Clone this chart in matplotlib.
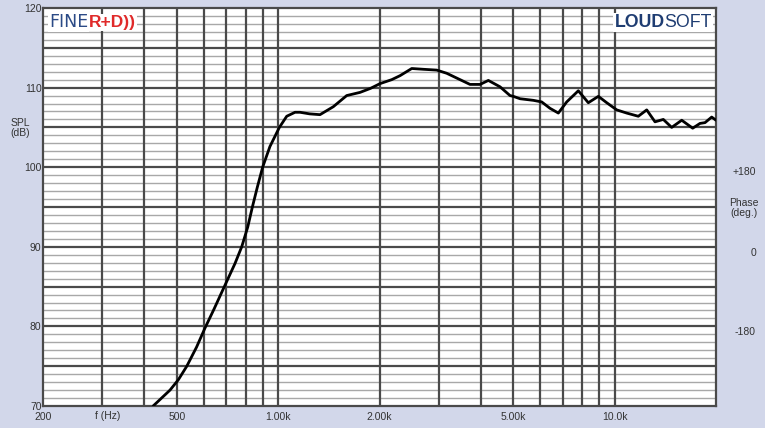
import matplotlib
matplotlib.use("Agg")
import matplotlib.pyplot as plt
from matplotlib.ticker import NullLocator, FixedLocator, NullFormatter

plt.rcParams['font.family'] = ['Liberation Sans', 'DejaVu Sans']

# Frequency response data (Hz, dB SPL)
freq = [425, 477, 505, 535, 572, 606, 645, 690, 744, 779, 812, 838, 867,
        899, 945, 1008, 1060, 1122, 1161, 1240, 1331, 1458, 1598, 1751,
        1880, 2007, 2175, 2302, 2494, 2700, 2958, 3168, 3470, 3715, 3980,
        4212, 4563, 4885, 4997, 5233, 5731, 6068, 6422, 6800, 7200, 7796,
        8348, 8942, 9470, 10140, 10857, 11752, 12450, 13176, 13946, 14768,
        15820, 17052, 17926, 18553, 19420, 20000]
spl = [70.0, 72.0, 73.3, 75.0, 77.4, 79.8, 82.2, 84.9, 87.9, 90.0, 92.5,
       95.0, 97.5, 100.0, 102.6, 105.0, 106.4, 106.9, 106.9, 106.7, 106.6,
       107.6, 109.0, 109.4, 109.9, 110.5, 111.0, 111.5, 112.4, 112.3, 112.2,
       111.8, 111.0, 110.4, 110.4, 110.9, 110.1, 109.0, 108.9, 108.6, 108.4,
       108.2, 107.4, 106.8, 108.2, 109.6, 108.1, 108.9, 108.1, 107.2, 106.8,
       106.4, 107.2, 105.7, 106.0, 105.0, 105.9, 104.9, 105.5, 105.6, 106.3,
       105.9]

x_ticks = [200, 500, 1000, 2000, 5000, 10000]
x_labels = ['200', '500', '1.00k', '2.00k', '5.00k', '10.0k']
y_ticks = [70, 80, 90, 100, 110, 120]
vgrid = [300, 400, 500, 600, 700, 800, 900, 1000, 2000, 3000, 4000, 5000,
         6000, 7000, 8000, 9000, 10000]
phase_labels = ['+180', '0', '-180']

W, H = 765, 428
bg = '#d2d7ea'
fig = plt.figure(figsize=(W/100, H/100), dpi=100, facecolor=bg)
ax = fig.add_axes([43/W, 22/H, (716-43)/W, (406-8)/H])
ax.set_facecolor('white')
ax.set_xscale('log')
ax.set_xlim(200, 20000)
ax.set_ylim(70, 120)

# grid
for v in range(71, 120):
    if v % 5 == 0:
        ax.axhline(v, color='#4a4a4a', lw=1.6, zorder=1)
    else:
        ax.axhline(v, color='#a8a8a8', lw=1.0, zorder=1)
for f in vgrid:
    ax.axvline(f, color='#4a4a4a', lw=1.6, zorder=1)

ax.plot(freq, spl, color='black', lw=2.0, zorder=3,
        solid_joinstyle='round', solid_capstyle='round')

for s in ax.spines.values():
    s.set_color('#4a4a4a')
    s.set_linewidth(1.6)

ax.xaxis.set_major_locator(FixedLocator(x_ticks))
ax.xaxis.set_minor_locator(NullLocator())
ax.xaxis.set_minor_formatter(NullFormatter())
ax.set_xticklabels(x_labels)
ax.set_yticks(y_ticks)
ax.tick_params(axis='both', length=0, labelsize=7.5, colors='#333333')
ax.tick_params(axis='y', pad=1)
ax.tick_params(axis='x', pad=4.5)

# extra labels
fig.text(108/W, 1 - 416/H, 'f (Hz)', fontsize=7.5, color='#333333',
         ha='center', va='center')
fig.text(20/W, 1 - 128/H, 'SPL\n(dB)', fontsize=7.5, color='#333333',
         ha='center', va='center', linespacing=1.1)
phase_y = [172, 253, 332]
for lab, py in zip(phase_labels, phase_y):
    fig.text(756/W, 1 - py/H, lab, fontsize=7.5, color='#333333',
             ha='right', va='center')
fig.text(744/W, 1 - 208/H, 'Phase\n(deg.)', fontsize=7.5, color='#333333',
         ha='center', va='center', linespacing=1.1)

# logos
box = dict(facecolor='white', edgecolor='none', pad=0.8)
t1 = fig.text(49/W, 1 - 27/H, 'FINE', fontsize=12.5, color='#2b4a86',
              family=['DejaVu Sans'], ha='left', va='baseline', zorder=5,
              bbox=box)
fig.text(0, 0, 'R+D))', fontsize=12.5, color='#e02a2a', fontweight='bold',
         ha='left', va='baseline', zorder=5, bbox=box,
         transform=t1.get_transform())
fig.canvas.draw()
r = fig.canvas.get_renderer()
bb = t1.get_window_extent(r)
fig.texts[-1].set_position(((bb.x1 + 1)/W, 1 - 27/H))

t2 = fig.text(712/W, 1 - 27/H, 'SOFT', fontsize=12.8, color='#1f3d72',
              ha='right', va='baseline', zorder=5, bbox=box)
fig.canvas.draw()
bb2 = t2.get_window_extent(r)
fig.text(bb2.x0/W, 1 - 27/H, 'LOUD', fontsize=12.8, color='#1f3d72',
         fontweight='bold', ha='right', va='baseline', zorder=5, bbox=box)

fig.savefig('out.png', dpi=100, facecolor=bg)
